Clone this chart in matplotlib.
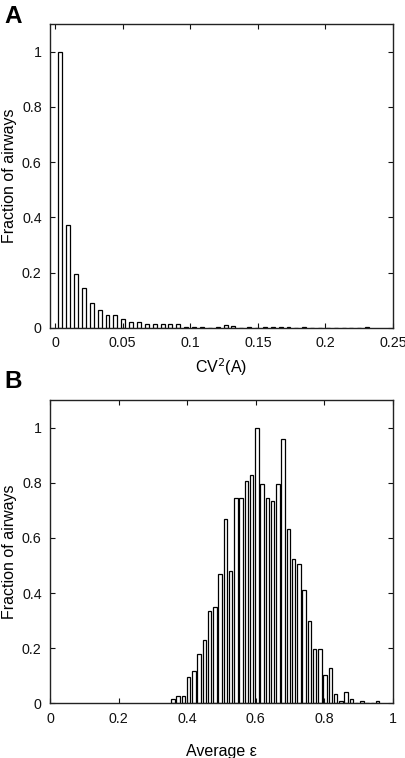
import numpy as np
import matplotlib
matplotlib.use("Agg")
import matplotlib.pyplot as plt
from matplotlib.ticker import FuncFormatter

plt.rcParams['font.family'] = ['Liberation Sans', 'DejaVu Sans']

# Panel A: histogram of CV^2(A), 40 bins, normalised to the tallest bin
cv2_first_center = 0.0039
cv2_last_center = 0.2309
cv2_frac = [1.0, 0.371, 0.196, 0.146, 0.089, 0.065, 0.047, 0.047, 0.033, 0.022,
            0.022, 0.016, 0.016, 0.016, 0.015, 0.013, 0.005, 0.005, 0.005, 0.0,
            0.003, 0.011, 0.008, 0.0, 0.003, 0.0, 0.003, 0.003, 0.003, 0.003,
            0.0, 0.003, 0.0, 0.0, 0.0, 0.0, 0.0, 0.0, 0.0, 0.003]

# Panel B: histogram of average epsilon, 40 bins
eps_first_center = 0.358
eps_last_center = 0.955
eps_frac = [0.016, 0.025, 0.025, 0.094, 0.118, 0.179, 0.231, 0.334, 0.351, 0.470,
            0.667, 0.479, 0.744, 0.744, 0.805, 0.829, 1.0, 0.794, 0.744, 0.735,
            0.794, 0.958, 0.632, 0.522, 0.504, 0.410, 0.299, 0.197, 0.197, 0.103,
            0.127, 0.033, 0.008, 0.041, 0.016, 0.0, 0.008, 0.0, 0.0, 0.008]

fmt = FuncFormatter(lambda v, p: "%g" % round(v, 3))


def style_axes(ax):
    ax.tick_params(direction='in', top=True, right=True, length=3.5,
                   width=0.8, labelsize=10.3, pad=6, colors='#111111')
    for s in ax.spines.values():
        s.set_linewidth(1.0)
        s.set_color('#222222')
    ax.xaxis.set_major_formatter(fmt)
    ax.yaxis.set_major_formatter(fmt)


fig = plt.figure(figsize=(4.06, 7.58), dpi=100)

# ---- A ----
ax1 = fig.add_axes([0.1232, 0.5673, 0.8448, 0.401])
xa = np.linspace(cv2_first_center, cv2_last_center, len(cv2_frac))
wa = xa[1] - xa[0]
ax1.bar(xa, cv2_frac, width=wa * 0.5, color='white', edgecolor='black', linewidth=0.9)
ax1.set_xlim(-0.0037, 0.25)
ax1.set_ylim(0, 1.1)
ax1.set_xticks([0, 0.05, 0.1, 0.15, 0.2, 0.25])
ax1.set_yticks([0, 0.2, 0.4, 0.6, 0.8, 1])
style_axes(ax1)
ax1.set_xlabel(r'CV$^2$(A)', fontsize=11.5, labelpad=4)
ax1.set_ylabel('Fraction of airways', fontsize=11.5)
ax1.yaxis.set_label_coords(-0.095, 0.5)
fig.text(0.012, 0.994, 'A', fontsize=17.5, fontweight='bold', va='top', ha='left')

# ---- B ----
ax2 = fig.add_axes([0.1232, 0.0722, 0.8448, 0.4])
xb = np.linspace(eps_first_center, eps_last_center, len(eps_frac))
wb = xb[1] - xb[0]
ax2.bar(xb, eps_frac, width=wb * 0.65, color='white', edgecolor='black', linewidth=0.9)
ax2.set_xlim(0, 1)
ax2.set_ylim(0, 1.1)
ax2.set_xticks([0, 0.2, 0.4, 0.6, 0.8, 1])
ax2.set_yticks([0, 0.2, 0.4, 0.6, 0.8, 1])
style_axes(ax2)
ax2.set_xlabel('Average ε', fontsize=11.5, labelpad=13)
ax2.set_ylabel('Fraction of airways', fontsize=11.5)
ax2.yaxis.set_label_coords(-0.095, 0.5)
fig.text(0.012, 0.512, 'B', fontsize=17.5, fontweight='bold', va='top', ha='left')

fig.savefig('out.png', dpi=100)
